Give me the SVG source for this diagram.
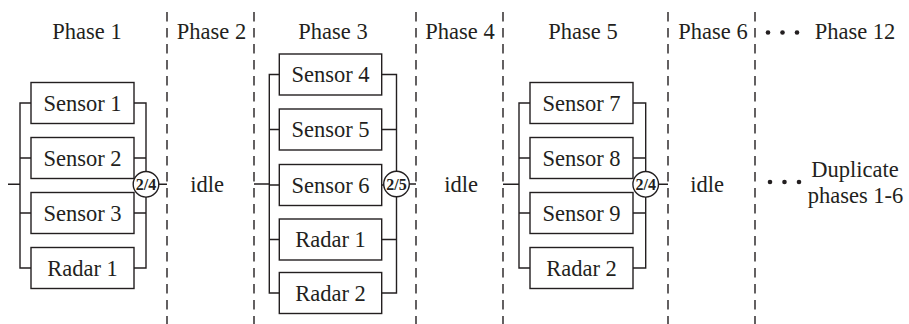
<svg xmlns="http://www.w3.org/2000/svg" width="909" height="324" viewBox="0 0 909 324" font-family="'Liberation Serif', 'Times New Roman', 'DejaVu Serif', serif">
<style>
text{font-family:'Liberation Serif','Times New Roman','DejaVu Serif',serif;fill:#231f20;}
.t{font-size:22.5px;text-anchor:middle;}
.k{font-size:16px;font-weight:bold;text-anchor:middle;}
.box{fill:#fff;stroke:#231f20;stroke-width:1.4;}
.ln{fill:none;stroke:#231f20;stroke-width:1.4;}
.dash{fill:none;stroke:#231f20;stroke-width:1.4;stroke-dasharray:9.5 6.5;}
.gate{fill:#fff;stroke:#231f20;stroke-width:1.4;}
.dot{fill:#231f20;}
</style>
<rect width="909" height="324" fill="#fff"/>
<g id="dividers">
<line class="dash" x1="167" y1="12" x2="167" y2="324"/>
<line class="dash" x1="254" y1="12" x2="254" y2="324"/>
<line class="dash" x1="416" y1="12" x2="416" y2="324"/>
<line class="dash" x1="503" y1="12" x2="503" y2="324"/>
<line class="dash" x1="668" y1="12" x2="668" y2="324"/>
<line class="dash" x1="755" y1="12" x2="755" y2="324"/>
</g>
<g id="headers">
<text class="t" x="87" y="39">Phase 1</text>
<text class="t" x="211.5" y="39">Phase 2</text>
<text class="t" x="333" y="39">Phase 3</text>
<text class="t" x="460" y="39">Phase 4</text>
<text class="t" x="583" y="39">Phase 5</text>
<text class="t" x="713" y="39">Phase 6</text>
<circle class="dot" cx="768" cy="32.5" r="2.3"/>
<circle class="dot" cx="782.5" cy="32.5" r="2.3"/>
<circle class="dot" cx="797" cy="32.5" r="2.3"/>
<text class="t" x="855" y="39">Phase 12</text>
</g>
<g id="connectors">
<path class="ln" d="M8 184.3H20M31 103H20V268H31M20 158H31M20 213H31M134 103H146V268H134M134 158H146M134 213H146M158 184.3H167"/>
<path class="ln" d="M254 184H269.3M279.3 74.5H269.3V293H279.3M269.3 129.5H279.3M269.3 185H279.3M269.3 239.5H279.3M381.7 74.5H396.5V293H381.7M381.7 129.5H396.5M381.7 185H396.5M381.7 239.5H396.5M409 184H416"/>
<path class="ln" d="M503 184.3H519M530 103H519V268H530M519 158H530M519 213H530M633 103H645.7V268H633M633 158H645.7M633 213H645.7M658 184.3H668"/>
</g>
<g id="phase1">
<g id="s1"><rect class="box" x="31" y="82.5" width="103" height="41"/><text class="t" x="82.5" y="110.7">Sensor 1</text></g>
<g id="s2"><rect class="box" x="31" y="137.5" width="103" height="41"/><text class="t" x="82.5" y="165.7">Sensor 2</text></g>
<g id="s3"><rect class="box" x="31" y="192.5" width="103" height="41"/><text class="t" x="82.5" y="220.7">Sensor 3</text></g>
<g id="r1a"><rect class="box" x="31" y="247.5" width="103" height="41"/><text class="t" x="82.5" y="275.7">Radar 1</text></g>
<g id="k1"><circle class="gate" cx="146" cy="184.3" r="12.8"/><text class="k" x="146" y="190.3">2/4</text></g>
</g>
<g id="phase2"><text class="t" x="207" y="191.5">idle</text></g>
<g id="phase3">
<g id="s4"><rect class="box" x="279.3" y="54" width="102.4" height="41"/><text class="t" x="330.5" y="82.2">Sensor 4</text></g>
<g id="s5"><rect class="box" x="279.3" y="109" width="102.4" height="41"/><text class="t" x="330.5" y="137.2">Sensor 5</text></g>
<g id="s6"><rect class="box" x="279.3" y="164.5" width="102.4" height="41"/><text class="t" x="330.5" y="192.7">Sensor 6</text></g>
<g id="r1b"><rect class="box" x="279.3" y="219" width="102.4" height="41"/><text class="t" x="330.5" y="247.2">Radar 1</text></g>
<g id="r2a"><rect class="box" x="279.3" y="272.5" width="102.4" height="41"/><text class="t" x="330.5" y="300.7">Radar 2</text></g>
<g id="k2"><circle class="gate" cx="396.5" cy="184" r="12.8"/><text class="k" x="396.5" y="190">2/5</text></g>
</g>
<g id="phase4"><text class="t" x="461" y="191.5">idle</text></g>
<g id="phase5">
<g id="s7"><rect class="box" x="530" y="82.5" width="103" height="41"/><text class="t" x="581.5" y="110.7">Sensor 7</text></g>
<g id="s8"><rect class="box" x="530" y="137.5" width="103" height="41"/><text class="t" x="581.5" y="165.7">Sensor 8</text></g>
<g id="s9"><rect class="box" x="530" y="192.5" width="103" height="41"/><text class="t" x="581.5" y="220.7">Sensor 9</text></g>
<g id="r2b"><rect class="box" x="530" y="247.5" width="103" height="41"/><text class="t" x="581.5" y="275.7">Radar 2</text></g>
<g id="k3"><circle class="gate" cx="645.7" cy="184.3" r="12.8"/><text class="k" x="645.7" y="190.3">2/4</text></g>
</g>
<g id="phase6"><text class="t" x="707" y="191.5">idle</text></g>
<g id="phase12">
<circle class="dot" cx="770" cy="182" r="2.3"/>
<circle class="dot" cx="784.5" cy="182" r="2.3"/>
<circle class="dot" cx="799" cy="182" r="2.3"/>
<text class="t" x="855" y="176.7">Duplicate</text>
<text class="t" x="855.5" y="202.5">phases 1-6</text>
</g>
</svg>
